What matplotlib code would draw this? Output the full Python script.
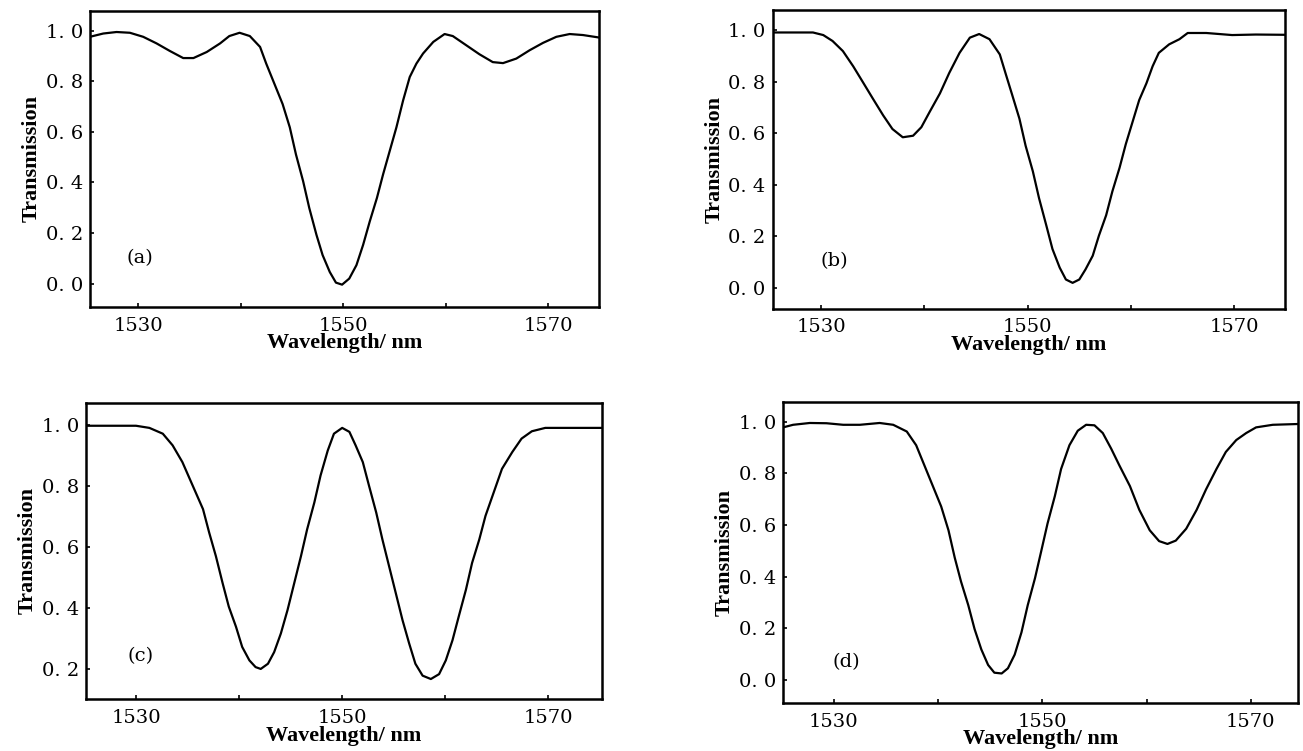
import numpy as np
import matplotlib
matplotlib.use("Agg")
import matplotlib.pyplot as plt

plt.rcParams['font.family'] = ['DejaVu Serif']

# wavelength (nm) / transmission
wl_a = [1525.3, 1526.6, 1527.9, 1529.2, 1530.5, 1531.8, 1533.1, 1534.4, 1535.4, 1536.7,
        1538.0, 1538.9, 1539.9, 1540.9, 1541.9, 1542.5, 1543.3, 1544.1, 1544.8, 1545.4,
        1546.1, 1546.7, 1547.4, 1548.0, 1548.7, 1549.3, 1549.9, 1550.6, 1551.3, 1551.95,
        1552.6, 1553.3, 1553.9, 1554.55, 1555.2, 1555.85, 1556.5, 1557.15, 1557.8, 1558.8,
        1559.9, 1560.7, 1562.0, 1563.3, 1564.6, 1565.6, 1566.9, 1568.2, 1569.5, 1570.8,
        1572.1, 1573.4, 1575.0]
tr_a = [0.976, 0.989, 0.995, 0.992, 0.976, 0.95, 0.92, 0.892, 0.892, 0.916,
        0.95, 0.979, 0.992, 0.979, 0.936, 0.87, 0.79, 0.71, 0.618, 0.511,
        0.405, 0.299, 0.193, 0.113, 0.046, 0.004, -0.004, 0.02, 0.073, 0.153,
        0.246, 0.339, 0.432, 0.525, 0.618, 0.724, 0.817, 0.87, 0.91, 0.956,
        0.987, 0.979, 0.943, 0.907, 0.876, 0.872, 0.89, 0.923, 0.952, 0.976,
        0.987, 0.983, 0.973]

wl_b = [1525.3, 1529.2, 1530.2, 1531.1, 1532.1, 1533.1, 1534.0, 1535.0, 1536.0, 1536.9,
        1537.9, 1538.9, 1539.7, 1540.5, 1541.5, 1542.4, 1543.4, 1544.4, 1545.3, 1546.3,
        1547.3, 1547.9, 1548.5, 1549.2, 1549.8, 1550.5, 1551.1, 1551.8, 1552.4, 1553.1,
        1553.7, 1554.35, 1555.0, 1555.6, 1556.3, 1556.9, 1557.6, 1558.2, 1558.9, 1559.5,
        1560.2, 1560.8, 1561.5, 1562.1, 1562.7, 1563.7, 1564.7, 1565.5, 1567.3, 1569.8,
        1572.1, 1574.9]
tr_b = [0.99, 0.99, 0.98, 0.957, 0.918, 0.859, 0.80, 0.734, 0.669, 0.616,
        0.584, 0.59, 0.623, 0.682, 0.754, 0.833, 0.911, 0.97, 0.984, 0.964,
        0.905, 0.826, 0.748, 0.656, 0.551, 0.452, 0.348, 0.243, 0.151, 0.079,
        0.033, 0.02, 0.033, 0.072, 0.125, 0.203, 0.282, 0.374, 0.466, 0.557,
        0.649, 0.728, 0.793, 0.859, 0.911, 0.944, 0.964, 0.988, 0.988, 0.98,
        0.982, 0.981]

wl_c = [1525.15, 1530.0, 1531.3, 1532.6, 1533.55, 1534.5, 1535.5, 1536.5, 1537.1, 1537.75,
        1538.4, 1539.0, 1539.7, 1540.3, 1541.0, 1541.6, 1542.1, 1542.8, 1543.4, 1544.05,
        1544.7, 1545.35, 1546.0, 1546.6, 1547.3, 1547.9, 1548.6, 1549.2, 1550.0, 1550.7,
        1551.3, 1552.0, 1552.6, 1553.3, 1553.9, 1554.55, 1555.2, 1555.85, 1556.5, 1557.1,
        1557.8, 1558.6, 1559.4, 1560.05, 1560.7, 1561.3, 1562.0, 1562.6, 1563.3, 1563.9,
        1564.7, 1565.5, 1566.5, 1567.4, 1568.4, 1569.7, 1575.2]
tr_c = [0.996, 0.996, 0.989, 0.97, 0.932, 0.877, 0.80, 0.723, 0.646, 0.569,
        0.481, 0.404, 0.338, 0.272, 0.228, 0.206, 0.20, 0.217, 0.255, 0.316,
        0.393, 0.481, 0.569, 0.657, 0.745, 0.833, 0.915, 0.97, 0.989, 0.976,
        0.932, 0.877, 0.80, 0.712, 0.624, 0.536, 0.448, 0.36, 0.283, 0.217,
        0.178, 0.167, 0.183, 0.228, 0.294, 0.371, 0.459, 0.547, 0.624, 0.701,
        0.778, 0.855, 0.91, 0.954, 0.978, 0.989, 0.989]

wl_d = [1525.14, 1526.1, 1527.7, 1529.3, 1530.9, 1532.5, 1534.4, 1535.7, 1537.0, 1537.9,
        1538.7, 1539.5, 1540.3, 1541.0, 1541.6, 1542.2, 1542.9, 1543.5, 1544.15, 1544.8,
        1545.4, 1546.1, 1546.7, 1547.35, 1548.0, 1548.6, 1549.3, 1549.9, 1550.5, 1551.2,
        1551.8, 1552.6, 1553.4, 1554.2, 1555.0, 1555.8, 1556.6, 1557.4, 1558.4, 1559.3,
        1560.3, 1561.2, 1562.0, 1562.8, 1563.8, 1564.8, 1565.7, 1566.7, 1567.6, 1568.6,
        1569.55, 1570.5, 1572.1, 1574.5]
tr_d = [0.978, 0.988, 0.995, 0.994, 0.988, 0.988, 0.995, 0.988, 0.962, 0.909,
        0.83, 0.751, 0.672, 0.58, 0.474, 0.382, 0.29, 0.198, 0.119, 0.059,
        0.029, 0.026, 0.046, 0.099, 0.185, 0.29, 0.395, 0.50, 0.606, 0.712,
        0.817, 0.909, 0.965, 0.988, 0.986, 0.956, 0.896, 0.83, 0.751, 0.659,
        0.58, 0.538, 0.527, 0.54, 0.586, 0.659, 0.738, 0.817, 0.883, 0.929,
        0.956, 0.978, 0.988, 0.991]

panel_tags = ['(a)', '(b)', '(c)', '(d)']
x_ticks = [1530, 1540, 1550, 1560, 1570]
x_tick_labels = ['1530', '', '1550', '', '1570']
y_ticks_full = [0.0, 0.2, 0.4, 0.6, 0.8, 1.0]
y_labels_full = ['0. 0', '0. 2', '0. 4', '0. 6', '0. 8', '1. 0']
y_ticks_c = [0.2, 0.4, 0.6, 0.8, 1.0]
y_labels_c = ['0. 2', '0. 4', '0. 6', '0. 8', '1. 0']

fig = plt.figure(figsize=(13.03, 7.51), dpi=100)

panels = [
    # (rect, x data, y data, xlim, ylim, yticks, ylabels, tag position)
    ([0.069, 0.591, 0.391, 0.395], wl_a, tr_a, (1525.3, 1575.0), (-0.093, 1.08),
     y_ticks_full, y_labels_full, (0.098, 0.164)),
    ([0.593, 0.589, 0.393, 0.398], wl_b, tr_b, (1525.3, 1574.9), (-0.08, 1.078),
     y_ticks_full, y_labels_full, (0.12, 0.158)),
    ([0.066, 0.069, 0.396, 0.395], wl_c, tr_c, (1525.15, 1575.2), (0.101, 1.072),
     y_ticks_c, y_labels_c, (0.105, 0.144)),
    ([0.601, 0.064, 0.395, 0.401], wl_d, tr_d, (1525.14, 1574.5), (-0.088, 1.077),
     y_ticks_full, y_labels_full, (0.123, 0.136)),
]

for (rect, x, y, xl, yl, yt, ylab, tagpos), tag in zip(panels, panel_tags):
    ax = fig.add_axes(rect)
    ax.plot(x, y, color='black', lw=1.6)
    ax.set_xlim(*xl)
    ax.set_ylim(*yl)
    ax.set_xticks(x_ticks)
    ax.set_xticklabels(x_tick_labels)
    ax.set_yticks(yt)
    ax.set_yticklabels(ylab)
    ax.tick_params(direction='in', length=3, width=1.2, labelsize=14)
    ax.tick_params(axis='x', pad=7)
    ax.tick_params(axis='y', pad=5)
    for s in ax.spines.values():
        s.set_linewidth(1.8)
    ax.set_xlabel('Wavelength/ nm', fontsize=16, fontweight='bold',
                  family='Liberation Serif', labelpad=-1)
    ax.set_ylabel('Transmission', fontsize=16, fontweight='bold',
                  family='Liberation Serif', labelpad=3)
    ax.text(tagpos[0], tagpos[1], tag, transform=ax.transAxes, fontsize=14,
            ha='center', va='center')

fig.savefig('out.png', dpi=100)
